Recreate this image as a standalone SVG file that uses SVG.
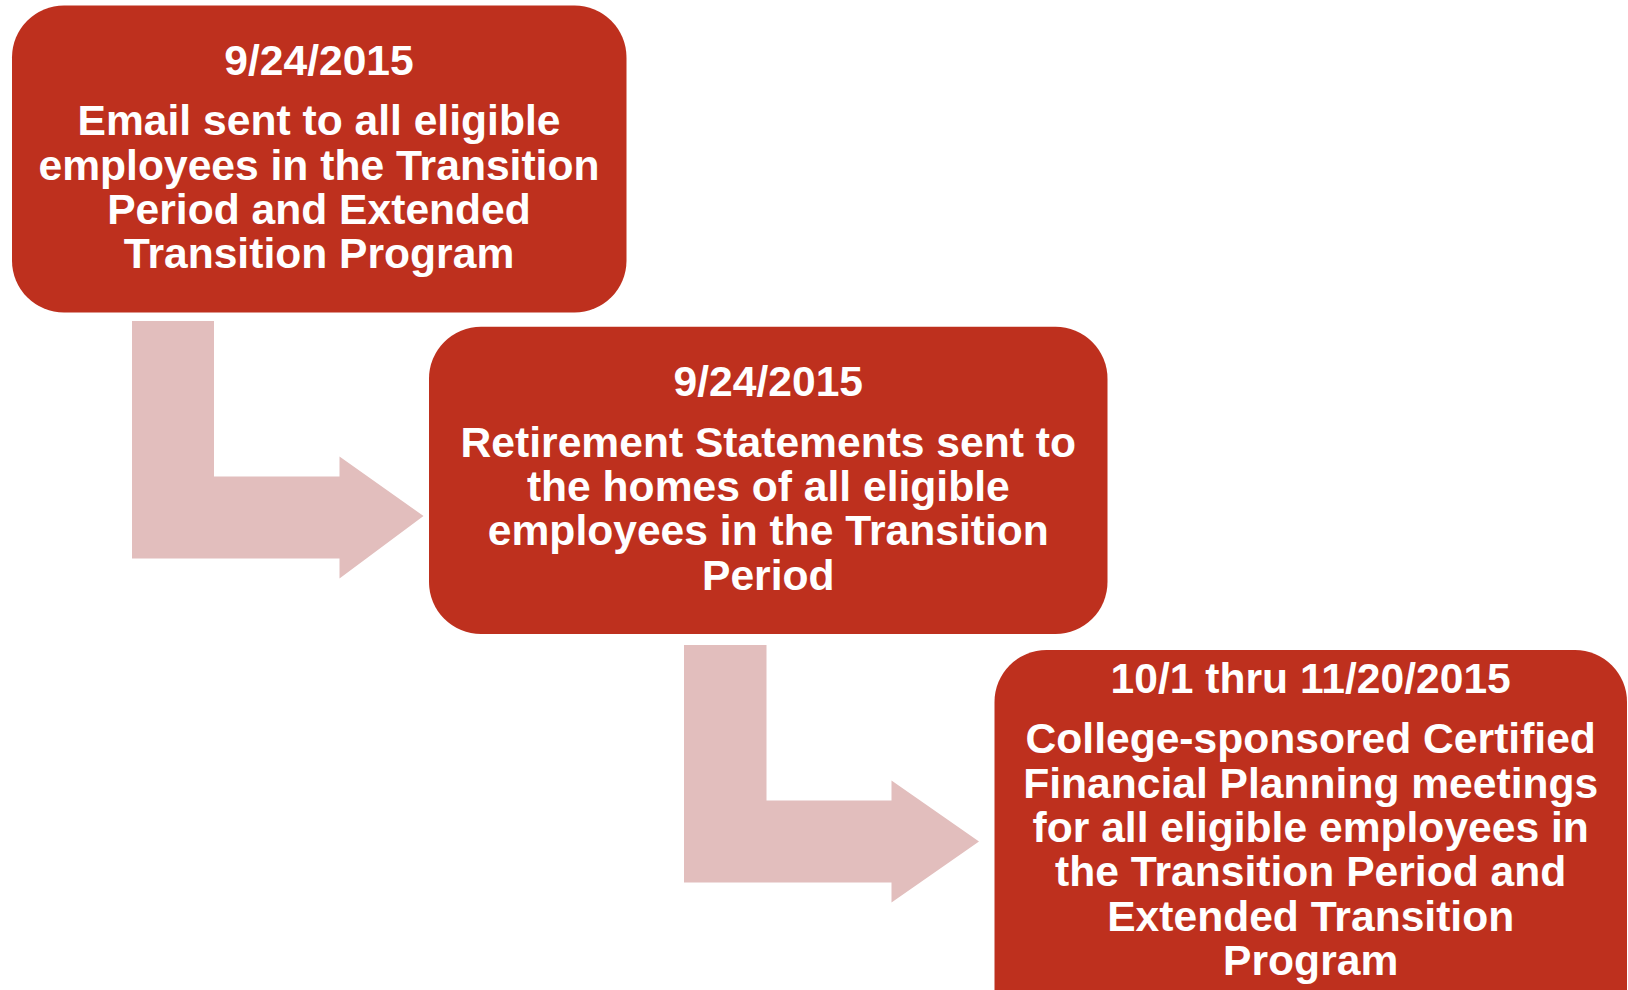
<svg xmlns="http://www.w3.org/2000/svg" width="1628" height="990" viewBox="0 0 1628 990">
  <style>
    .box { fill: #BE301E; }
    .arrow { fill: #E2BEBD; }
    .t { font-family: "Liberation Sans", Arial, sans-serif; font-weight: bold; font-size: 42.6px; fill: #FFFFFF; text-anchor: middle; }
  </style>
  <rect width="1628" height="990" fill="#FFFFFF"/>

  <!-- bent arrows between steps -->
  <g id="connectors">
    <path class="arrow" d="M132,321 H214 V476.5 H339.5 V456.5 L423.5,516 L339.5,578.5 V558.5 H132 Z"/>
    <path class="arrow" d="M684,645 H766.5 V800.5 H891.5 V780.5 L979,841.5 L891.5,902.5 V882.5 H684 Z"/>
  </g>

  <g id="step1">
    <rect class="box" x="12" y="5.5" width="614.5" height="307" rx="52" ry="52"/>
    <text class="t" x="319" y="75">9/24/2015</text>
    <text class="t" x="319" y="135">Email sent to all eligible</text>
    <text class="t" x="319" y="179.5">employees in the Transition</text>
    <text class="t" x="319" y="224">Period and Extended</text>
    <text class="t" x="319" y="268.3">Transition Program</text>
  </g>

  <g id="step2">
    <rect class="box" x="429" y="326.7" width="678.5" height="307.3" rx="52" ry="52"/>
    <text class="t" x="768.3" y="396">9/24/2015</text>
    <text class="t" x="768.3" y="456.7">Retirement Statements sent to</text>
    <text class="t" x="768.3" y="501">the homes of all eligible</text>
    <text class="t" x="768.3" y="545.3">employees in the Transition</text>
    <text class="t" x="768.3" y="589.5">Period</text>
  </g>

  <g id="step3">
    <rect class="box" x="994.5" y="650" width="632.5" height="400" rx="52" ry="52"/>
    <text class="t" x="1310.7" y="693.3">10/1 thru 11/20/2015</text>
    <text class="t" x="1310.7" y="753.3">College-sponsored Certified</text>
    <text class="t" x="1310.7" y="797.6">Financial Planning meetings</text>
    <text class="t" x="1310.7" y="841.9">for all eligible employees in</text>
    <text class="t" x="1310.7" y="886.2">the Transition Period and</text>
    <text class="t" x="1310.7" y="930.5">Extended Transition</text>
    <text class="t" x="1310.7" y="974.8">Program</text>
  </g>
</svg>
